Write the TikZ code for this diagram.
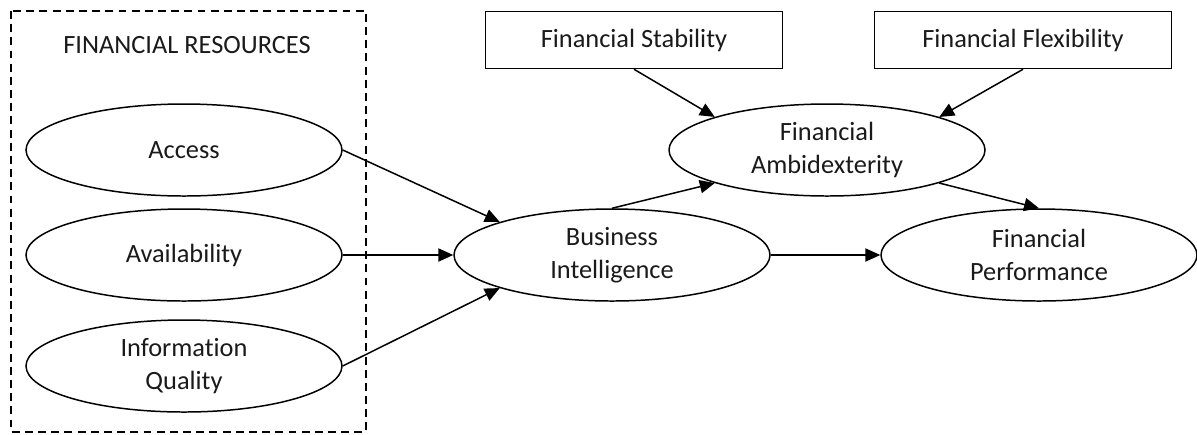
\documentclass[tikz,border=0pt]{standalone}
\usepackage{fontspec}
\setmainfont{Carlito}[Ligatures=NoCommon]
\usepackage{xcolor}
\usetikzlibrary{arrows.meta,shapes.geometric}
\definecolor{ink}{HTML}{000000}
\definecolor{paper}{HTML}{FFFFFF}
\definecolor{txt}{HTML}{1A1A1A}
\tikzset{
  oval/.style={ellipse, draw=ink, line width=0.85pt, minimum width=6.32cm,
    minimum height=1.84cm, inner sep=0pt, align=center, text=txt,
    font=\fontsize{15}{18.5}\selectfont},
  rbox/.style={rectangle, draw=ink, line width=0.85pt, minimum width=5.94cm,
    minimum height=1.14cm, inner sep=0pt, text=txt,
    font=\fontsize{15}{18.5}\selectfont},
  link/.style={draw=ink, line width=0.85pt, -{Triangle[length=8.5pt,width=7.5pt]}},
  frame/.style={draw=ink, line width=0.85pt, dash pattern=on 4.5pt off 3pt}
}
\begin{document}
\begin{tikzpicture}
  \useasboundingbox[fill=paper] (0,0) rectangle (23.94,-8.68);
  \draw[frame] (0.22,-0.22) rectangle (7.32,-8.64);
  \node[text=txt, font=\fontsize{15}{18.5}\selectfont] (res) at (3.74,-0.9) {FINANCIAL RESOURCES};

  \node[oval] (acc) at (3.68,-3.0) {Access};
  \node[oval] (ava) at (3.68,-5.1) {Availability};
  \node[oval] (iq) at (3.68,-7.32) {Information\\Quality};

  \node[oval] (bi) at (12.24,-5.1) {Business\\Intelligence};
  \node[oval] (fa) at (16.54,-3.0) {Financial\\Ambidexterity};
  \node[oval] (fp) at (20.78,-5.1) {Financial\\Performance};

  \node[rbox] (stab) at (12.68,-0.8) {Financial Stability};
  \node[rbox] (flex) at (20.46,-0.8) {Financial Flexibility};

  \draw[link] (acc.east) -- (bi.north west);
  \draw[link] (ava.east) -- (bi.west);
  \draw[link] (iq.east) -- (bi.south west);
  \draw[link] (bi.north) -- (fa.south west);
  \draw[link] (bi.east) -- (fp.west);
  \draw[link] (stab.south) -- (fa.north west);
  \draw[link] (flex.south) -- (fa.north east);
  \draw[link] (fa.south east) -- (fp.north);
\end{tikzpicture}
\end{document}
